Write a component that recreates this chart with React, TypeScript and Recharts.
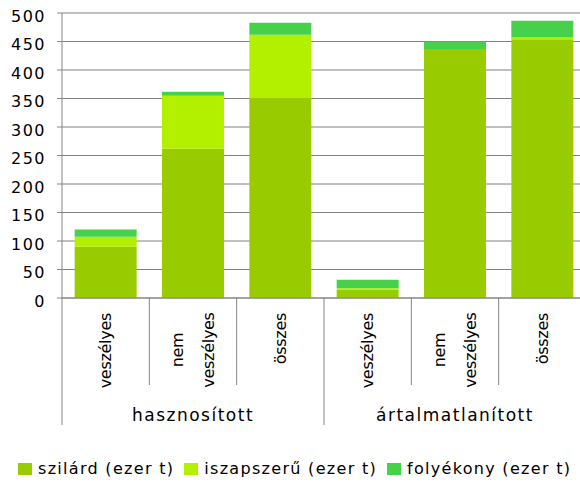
import { BarChart, Bar, XAxis, YAxis, CartesianGrid } from 'recharts';

const categories = ['veszélyes', 'nem veszélyes', 'összes', 'veszélyes', 'nem veszélyes', 'összes'];
const groups = ['hasznosított', 'ártalmatlanított'];
const szilard = [90, 262, 351, 15, 437, 454];
const iszapszeru = [17.5, 93, 111, 2, 0, 3];
const folyekony = [12.5, 7, 21, 15, 13, 29.5];
const yTicks = [0, 50, 100, 150, 200, 250, 300, 350, 400, 450, 500];

const seriesNames = ['szilárd (ezer t)', 'iszapszerű (ezer t)', 'folyékony (ezer t)'];
const colors = ['#99cc00', '#b3f000', '#47d14a'];

const data = categories.map((name, i) => ({
  name,
  group: groups[Math.floor(i / 3)],
  szilard: szilard[i],
  iszap: iszapszeru[i],
  folyekony: folyekony[i],
}));

const FONT = '"DejaVu Sans", Verdana, sans-serif';
const AXIS = '#868686';

const YTick = (props: any) => {
  const { x, y, payload } = props;
  return (
    <text x={x} y={y + 8.5} textAnchor="end" fontSize={16} fontFamily={FONT} fill="#000" letterSpacing={1.5}>
      {payload.value}
    </text>
  );
};

const CatTick = (props: any) => {
  const { x, y, payload } = props;
  const idx = payload.index ?? props.index ?? 0;
  const half = payload.offset || 43.7;
  const lines = String(payload.value).split(' ');
  const groupStart = idx % 3 === 0;
  const labelStyle = { fontSize: 16, fontFamily: FONT, fill: '#000', letterSpacing: -0.3 };
  return (
    <g>
      <line x1={x - half} y1={y} x2={x - half} y2={y + (groupStart ? 127 : 87)} stroke={AXIS} strokeWidth={1} />
      {idx === categories.length - 1 && (
        <line x1={x + half} y1={y} x2={x + half} y2={y + 127} stroke={AXIS} strokeWidth={1} />
      )}
      {lines.length === 1 ? (
        <text
          x={x}
          y={y + 15}
          dy="0.35em"
          transform={`rotate(-90, ${x}, ${y + 15})`}
          textAnchor="end"
          {...labelStyle}
        >
          {lines[0]}
        </text>
      ) : (
        lines.map((ln, k) => {
          const lx = x + (k - (lines.length - 1) / 2) * 31.5;
          return (
            <text
              key={k}
              x={lx}
              y={y + 52}
              dy="0.35em"
              transform={`rotate(-90, ${lx}, ${y + 52})`}
              textAnchor="middle"
              {...labelStyle}
            >
              {ln}
            </text>
          );
        })
      )}
      {idx % 3 === 1 && (
        <text x={x} y={y + 123} textAnchor="middle" fontSize={17} fontFamily={FONT} fill="#000" letterSpacing={1.5}>
          {groups[Math.floor(idx / 3)]}
        </text>
      )}
    </g>
  );
};

export default function App() {
  return (
    <div style={{ position: 'absolute', left: 0, top: 0, width: 580, height: 482, overflow: 'hidden', background: '#fff' }}>
      <BarChart
        width={600}
        height={482}
        data={data}
        margin={{ top: 13, right: 14, left: 0, bottom: 57 }}
        barCategoryGap="14.5%"
      >
        <CartesianGrid vertical={false} stroke="#808080" />
        <YAxis
          width={62}
          domain={[0, 500]}
          ticks={yTicks}
          interval={0}
          axisLine={{ stroke: AXIS }}
          tickLine={{ stroke: AXIS }}
          tickSize={5}
          tickMargin={11}
          tick={<YTick />}
        />
        <XAxis
          dataKey="name"
          height={127}
          interval={0}
          axisLine={{ stroke: AXIS }}
          tickLine={false}
          tickSize={0}
          tickMargin={0}
          tick={<CatTick />}
        />
        <Bar dataKey="szilard" stackId="a" fill={colors[0]} isAnimationActive={false} />
        <Bar dataKey="iszap" stackId="a" fill={colors[1]} isAnimationActive={false} />
        <Bar dataKey="folyekony" stackId="a" fill={colors[2]} isAnimationActive={false} />
      </BarChart>
      <div
        style={{
          position: 'absolute',
          left: 18,
          top: 459,
          display: 'flex',
          alignItems: 'center',
          fontFamily: FONT,
          fontSize: 16,
          letterSpacing: 1.3,
          color: '#000',
          whiteSpace: 'nowrap',
        }}
      >
        {seriesNames.map((n, i) => (
          <div key={n} style={{ display: 'flex', alignItems: 'center', marginRight: 10 }}>
            <span style={{ display: 'inline-block', width: 14, height: 12, background: colors[i], marginRight: 6 }} />
            <span>{n}</span>
          </div>
        ))}
      </div>
    </div>
  );
}
